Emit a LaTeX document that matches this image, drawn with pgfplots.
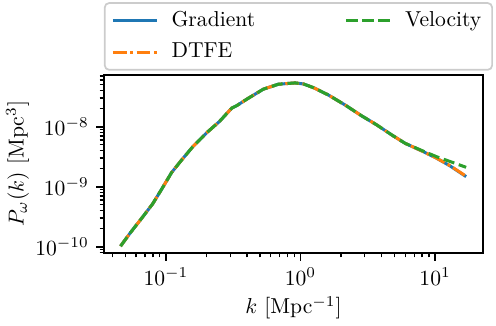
\documentclass[border=0pt]{standalone}
\usepackage{pgfplots}
\pgfplotsset{compat=1.18}
\definecolor{mplblue}{HTML}{1F77B4}
\definecolor{mplorange}{HTML}{FF7F0E}
\definecolor{mplgreen}{HTML}{2CA02C}

\begin{document}
\begin{tikzpicture}
\useasboundingbox (0pt,0pt) rectangle (229.6pt,150.9pt);
\begin{axis}[
    at={(48.1pt,33.8pt)},
    anchor=south west,
    scale only axis,
    width=175.5pt,
    height=82.4pt,
    xmode=log,
    ymode=log,
    xmin=0.0346, xmax=22.7,
    ymin=7.85e-11, ymax=7.26e-8,
    tick align=outside,
    xtick pos=bottom,
    ytick pos=left,
    major tick length=3.5pt,
    minor tick length=2pt,
    axis line style={line width=0.8pt},
    every tick/.style={black, line width=0.8pt},
    every minor tick/.style={black, line width=0.6pt},
    xlabel={$k$ [Mpc$^{-1}$]},
    ylabel={$P_\omega(k)$ [Mpc$^3$]},
    xlabel shift=-2pt,
    ylabel shift=-4pt,
    legend columns=2,
    legend cell align={left},
    legend style={at={(0,1)}, yshift=2pt, anchor=south west, draw=black!20,
        rounded corners=2pt, line width=0.8pt,
        row sep=2pt,
        /tikz/every odd column/.append style={column sep=4pt},
        /tikz/every even column/.append style={column sep=39.5pt}},
    legend image code/.code={\draw[#1] (0pt,0pt) -- (20.5pt,0pt);},
]

% Gradient
\addplot[mplblue, line width=1.4pt, forget plot] coordinates {
(0.046, 1.02e-10) (0.054, 1.67e-10) (0.066, 2.97e-10) (0.0796, 5.15e-10)
(0.0929, 9.06e-10) (0.110, 1.71e-9) (0.131, 2.79e-9) (0.160, 4.76e-9)
(0.201, 7.94e-9) (0.249, 1.21e-8) (0.308, 2.03e-8) (0.336, 2.24e-8)
(0.398, 2.86e-8) (0.528, 4.20e-8) (0.684, 5.09e-8) (0.910, 5.35e-8)
(1.05, 5.15e-8) (1.245, 4.47e-8) (1.61, 3.37e-8) (2.14, 2.30e-8)
(2.85, 1.51e-8) (3.68, 1.07e-8) (4.76, 7.28e-9) (5.98, 5.28e-9)
(8.18, 3.83e-9) (10.28, 2.97e-9) (12.94, 2.21e-9) (17.0, 1.47e-9)
};

% DTFE
\addplot[mplorange, line width=1.4pt, dash pattern=on 6.4pt off 1.6pt on 1.4pt off 1.6pt, forget plot] coordinates {
(0.046, 1.02e-10) (0.054, 1.67e-10) (0.066, 2.97e-10) (0.0796, 5.15e-10)
(0.0929, 9.06e-10) (0.110, 1.71e-9) (0.131, 2.79e-9) (0.160, 4.76e-9)
(0.201, 7.94e-9) (0.249, 1.21e-8) (0.308, 2.03e-8) (0.336, 2.24e-8)
(0.398, 2.86e-8) (0.528, 4.20e-8) (0.684, 5.09e-8) (0.910, 5.35e-8)
(1.05, 5.15e-8) (1.245, 4.47e-8) (1.61, 3.37e-8) (2.14, 2.30e-8)
(2.85, 1.51e-8) (3.68, 1.07e-8) (4.76, 7.28e-9) (5.98, 5.28e-9)
(8.18, 3.83e-9) (10.28, 2.97e-9) (12.94, 2.23e-9) (17.0, 1.49e-9)
};

% Velocity
\addplot[mplgreen, line width=1.4pt, dash pattern=on 5.2pt off 2.2pt, forget plot] coordinates {
(0.046, 1.02e-10) (0.054, 1.67e-10) (0.066, 2.97e-10) (0.0796, 5.15e-10)
(0.0929, 9.06e-10) (0.110, 1.71e-9) (0.131, 2.79e-9) (0.160, 4.76e-9)
(0.201, 7.94e-9) (0.249, 1.21e-8) (0.308, 2.03e-8) (0.336, 2.24e-8)
(0.398, 2.86e-8) (0.528, 4.20e-8) (0.684, 5.09e-8) (0.910, 5.35e-8)
(1.05, 5.15e-8) (1.245, 4.47e-8) (1.61, 3.37e-8) (2.14, 2.30e-8)
(2.85, 1.51e-8) (3.68, 1.07e-8) (4.76, 7.28e-9) (5.98, 5.28e-9)
(8.18, 3.90e-9) (10.28, 3.15e-9) (12.94, 2.62e-9) (17.0, 2.10e-9)
};

\addlegendimage{mplblue, line width=1.4pt}
\addlegendentry{Gradient}
\addlegendimage{mplgreen, line width=1.4pt, dash pattern=on 5.2pt off 2.2pt}
\addlegendentry{Velocity}
\addlegendimage{mplorange, line width=1.4pt, dash pattern=on 6.4pt off 1.6pt on 1.4pt off 1.6pt}
\addlegendentry{DTFE}

\end{axis}
\end{tikzpicture}
\end{document}
